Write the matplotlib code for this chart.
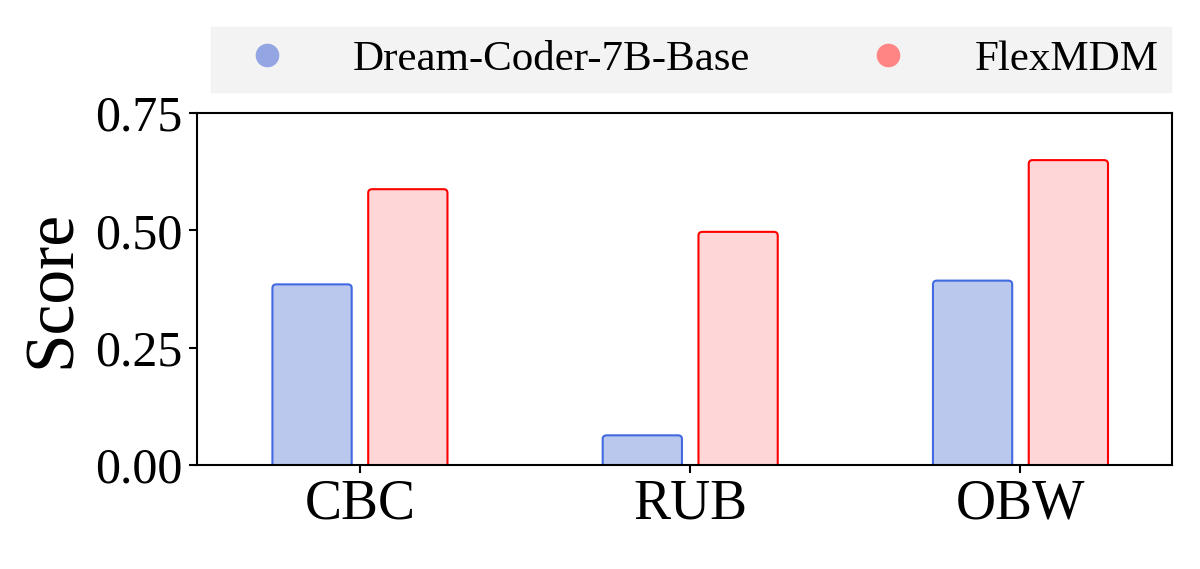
import matplotlib
matplotlib.use("Agg")
import matplotlib.pyplot as plt
from matplotlib.patches import FancyBboxPatch
from matplotlib.lines import Line2D
import numpy as np

categories = ["CBC", "RUB", "OBW"]
dream = [0.385, 0.063, 0.393]
flex = [0.588, 0.497, 0.650]
series_names = ["Dream-Coder-7B-Base", "FlexMDM"]

plt.rcParams['font.family'] = ['Liberation Serif', 'DejaVu Serif']
fig = plt.figure(figsize=(12, 5.69), dpi=100)
ax = fig.add_axes([0.164, 0.183, 0.813, 0.618])
x = np.arange(len(categories))
w = 0.24
off = 0.145
for xi, v in zip(x, dream):
    ax.add_patch(FancyBboxPatch((xi - off - w/2, -0.02), w, v + 0.02,
                 boxstyle="round,pad=0,rounding_size=0.012", mutation_aspect=0.75/0.9*0.8,
                 fc="#bac8ee", ec="#4169e1", lw=1.5))
for xi, v in zip(x, flex):
    ax.add_patch(FancyBboxPatch((xi + off - w/2, -0.02), w, v + 0.02,
                 boxstyle="round,pad=0,rounding_size=0.012", mutation_aspect=0.75/0.9*0.8,
                 fc="#ffd6d8", ec="#ff0000", lw=1.5))
ax.set_xlim(-0.494, 2.46)
ax.set_ylim(0, 0.75)
ax.set_xticks(x)
ax.set_xticklabels(categories, fontsize=40)
ax.set_yticks([0, 0.25, 0.5, 0.75])
ax.set_yticklabels(["0.00", "0.25", "0.50", "0.75"], fontsize=36)
ax.tick_params(axis="both", length=6, width=1.5, pad=4)
ax.set_ylabel("Score", fontsize=50, labelpad=8)
for s in ax.spines.values():
    s.set_linewidth(1.5)
handles = [Line2D([], [], ls="none", marker="o", ms=16, mfc="#93a5e2", mec="#93a5e2"),
           Line2D([], [], ls="none", marker="o", ms=16, mfc="#ff8585", mec="#ff8585")]
leg = fig.legend(handles, series_names, loc="center", bbox_to_anchor=(0.576, 0.895),
                 ncol=2, fontsize=31, frameon=True, fancybox=False, columnspacing=2.2,
                 handletextpad=1.0, borderpad=0.3)
leg.get_frame().set_facecolor("#f0f0f0")
leg.get_frame().set_edgecolor("#f0f0f0")
fig.savefig("out.png", dpi=100)
